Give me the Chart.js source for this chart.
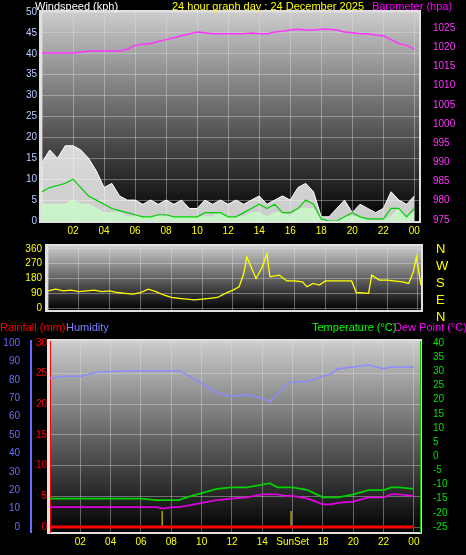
<!DOCTYPE html>
<html><head><meta charset="utf-8">
<script src="https://cdn.jsdelivr.net/npm/chart.js@4.4.0/dist/chart.umd.min.js"></script>
<style>
body{margin:0;background:#000;width:466px;height:555px;overflow:hidden;position:relative;font-family:"Liberation Sans",Arial,sans-serif}
canvas{position:absolute;left:0}
.t{position:absolute;font-size:11px;white-space:nowrap;line-height:12px;z-index:2}
</style></head><body>
<div class="t" style="left:35px;top:0;color:#fff">Windspeed (kph)</div>
<div class="t" style="left:172px;top:0;color:#ff0">24 hour graph day : 24 December 2025</div>
<div class="t" style="left:372px;top:0;color:#f0f">Barometer (hpa)</div>
<div class="t" style="left:436px;top:240px;color:#ff0;font-size:13px;line-height:17px">N<br>W<br>S<br>E<br>N</div>
<div class="t" style="left:0;top:321px;color:#f00">Rainfall (mm)</div>
<div class="t" style="left:66px;top:321px;color:#8080ff">Humidity</div>
<div class="t" style="left:312px;top:321px;color:#0f0">Temperature (°C)</div>
<div class="t" style="left:394px;top:321px;color:#f0f">Dew Point (°C)</div>
<div style="position:absolute;left:0;top:0;width:466px;height:555px">
<canvas id="wind" width="466" height="240" style="top:0"></canvas>
<canvas id="dir" width="466" height="88" style="top:234px"></canvas>
<canvas id="temp" width="466" height="225" style="top:330px"></canvas>
</div>
<script>
const halfHours = [0,0.5,1,1.5,2,2.5,3,3.5,4,4.5,5,5.5,6,6.5,7,7.5,8,8.5,9,9.5,10,10.5,11,11.5,12,12.5,13,13.5,14,14.5,15,15.5,16,16.5,17,17.5,18,18.5,19,19.5,20,20.5,21,21.5,22,22.5,23,23.5,24];
const windGust = [14,17,15,18,18,17,15,12,8,9,6,5,5,4,5,4,5,4,5,3,3,5,4,5,4,5,4,5,6,4,5,6,5,8,9,7,1,1,3,5,2,4,3,2,3,7,5,4,6];
const windLull = [4,4,4,4,5,4,4,3,2,2,2,1,1,1,1,1,1,1,1,1,1,1,1,2,1,1,1,2,2,1,2,2,1,3,3,3,0,0,0,1,1,1,0,0,0,1,3,1,2];
const windAvg = [7,8,8.5,9,10,8,6,5,4,3,2.5,2,1.5,1,1,1.5,1.5,1,1,1,1,2,2,2,1,1,2,3,4,3,4,2,2,3,5,4,0.5,0,0,1,2,1,0.5,0.5,0.5,3,3,1,3];
const baro = [1018.5,1018.5,1018.5,1018.5,1018.5,1018.7,1019,1019,1019,1019,1019,1019.5,1020.5,1020.8,1021,1021.5,1022,1022.5,1023,1023.5,1024,1023.8,1023.5,1023.5,1023.5,1023.5,1023.5,1023.7,1023.5,1023.5,1024,1024.2,1024.5,1024.7,1024.5,1024.5,1024.7,1024.7,1024.5,1024,1023.8,1023.5,1023.5,1023.2,1023,1022,1021,1020.5,1019.5];
const dirHours = [0,0.5,1,1.5,2,2.5,3,3.5,4,4.5,5,5.5,6,6.5,7,7.5,8,8.5,9,9.5,10,10.5,11,11.5,12,12.4,12.7,12.9,13.5,13.9,14.2,14.4,15,15.5,16,16.5,16.8,17.2,17.6,18,19,19.7,20,20.8,21,21.5,22,23,23.4,23.7,23.9,24.2];
const windDir = [105,115,105,110,100,105,110,100,105,95,90,85,95,115,100,80,65,60,55,50,55,60,65,90,110,130,210,310,180,250,330,190,200,165,165,160,130,150,140,165,165,165,95,90,200,170,170,160,150,220,310,140];
const hours = [0,1,2,3,4,5,6,7,7.5,8,8.5,9,10,11,12,13,14,14.5,15,15.5,16,17,18,18.5,19,20,21,22,22.5,23,24];
const humidity = [81,82,82,84,84.5,85,85,85,85,85,85,83,78,73,71,72,70,68,72,77,79,79,82,83,86,87,88,86,87,87,87];
const temperature = [-15,-15,-15,-15,-15,-15,-15,-15.5,-15.5,-15.5,-15.5,-14.5,-13,-11.5,-11,-11,-10,-9.5,-11,-11,-11,-12,-14.5,-14.5,-14.5,-13.5,-12,-12,-11,-11,-11.5];
const dewPoint = [-18,-18,-18,-18,-18,-18,-18,-18,-18.5,-18,-18,-17.5,-16.5,-15.5,-15,-14.5,-13.5,-13.5,-13.5,-14,-14,-15,-17,-17,-16.5,-16,-14.5,-14.5,-13.5,-13.5,-14];
const rainfall = [0,0,0,0,0,0,0,0,0,0,0,0,0,0,0,0,0,0,0,0,0,0,0,0,0,0,0,0,0,0,0];
const sunTimes = [7.4,15.9];
const xTickLabels = {2:'02',4:'04',6:'06',8:'08',10:'10',12:'12',14:'14',16:'16',18:'18',20:'20',22:'22',24:'00'};

const pts = (xs, ys) => xs.map((x, i) => ({x: x, y: ys[i]}));
const font = {family: 'Liberation Sans', size: 10};
const bgPlugin = {
  id: 'bg',
  beforeDraw(c) {
    const a = c.chartArea, g = c.ctx.createLinearGradient(0, a.top, 0, a.bottom);
    g.addColorStop(0, '#cccccc'); g.addColorStop(0.45, '#6e6e6e'); g.addColorStop(1, '#000');
    c.ctx.fillStyle = '#e0e0e0'; c.ctx.fillRect(a.left - 3, a.top - 2, a.width + 5, a.height + 4);
    c.ctx.fillStyle = g; c.ctx.fillRect(a.left, a.top, a.width, a.height);
  }
};
Chart.register(bgPlugin);
const fit = (w) => function (s) { s.width = w; };
const fitH = (h) => function (s) { s.height = h; };
const grid = {color: 'rgba(225,225,225,0.4)', tickLength: 0};
function xAxis(show, h, max, cb) {
  return {type: 'linear', min: 0, max: max, afterFit: fitH(h),
    grid: grid, border: {display: false},
    ticks: {display: show, stepSize: 2, autoSkip: false, includeBounds: false, color: '#ff0', font: font, padding: 4, maxRotation: 0,
      callback: cb || (v => xTickLabels[v] || '')}};
}
function yTicks(step, color, pad) {
  return {stepSize: step, autoSkip: false, includeBounds: false, color: color, font: font, padding: pad, callback: v => String(v)};
}
Chart.defaults.animation = false;
Chart.defaults.devicePixelRatio = 1;
Chart.defaults.responsive = false;
Chart.defaults.plugins.legend.display = false;
Chart.defaults.plugins.tooltip.enabled = false;
Chart.defaults.elements.point.radius = 0;

new Chart(document.getElementById('wind'), {
  type: 'line',
  data: {datasets: [
    {data: pts(halfHours, baro), yAxisID: 'yb', borderColor: '#ff33ff', borderWidth: 1.5},
    {data: pts(halfHours, windAvg), borderColor: '#00d000', borderWidth: 1.2},
    {data: pts(halfHours, windLull), borderColor: 'rgba(200,255,200,0.9)', backgroundColor: 'rgba(200,255,200,0.75)', fill: 'origin', borderWidth: 1},
    {data: pts(halfHours, windGust), borderColor: '#ffffff', backgroundColor: 'rgba(255,255,255,0.8)', fill: 'origin', borderWidth: 1}
  ]},
  options: {layout: {padding: {top: 12}}, scales: {
    x: xAxis(true, 19, 24.3),
    y: {position: 'left', min: 0, max: 50, afterFit: fit(42), grid: grid, border: {display: false},
      ticks: yTicks(5, '#b8ccff', 5)},
    yb: {position: 'right', min: 974.7, max: 1029.2, afterFit: fit(47), grid: {display: false}, border: {display: false},
      ticks: yTicks(5, '#ff33ff', 6)}
  }}
});

new Chart(document.getElementById('dir'), {
  type: 'line',
  data: {datasets: [{data: pts(dirHours, windDir), borderColor: '#ffff00', borderWidth: 1.3}]},
  options: {layout: {padding: {top: 10, bottom: 10}}, scales: {
    x: xAxis(false, 0, 24.2),
    y: {min: -11, max: 377, afterFit: fit(48), grid: grid, border: {display: false},
      ticks: yTicks(90, '#ff0', 6)},
    yr: {position: 'right', afterFit: fit(45), grid: {display: false}, border: {display: false}, ticks: {display: false}}
  }}
});

const sunSets = sunTimes.map(t => ({data: [{x: t, y: 0}, {x: t, y: 2.6}], yAxisID: 'yr', borderColor: '#b8a000', borderWidth: 1.5}));
new Chart(document.getElementById('temp'), {
  type: 'line',
  data: {datasets: [
    {data: pts(hours, humidity), yAxisID: 'yh', borderColor: '#8c8cff', borderWidth: 1.5},
    {data: pts(hours, temperature), yAxisID: 'yt', borderColor: '#00d000', borderWidth: 1.8},
    {data: pts(hours, dewPoint), yAxisID: 'yt', borderColor: '#e000e0', borderWidth: 1.8},
    {data: pts(hours, rainfall), yAxisID: 'yr', borderColor: '#ff0000', borderWidth: 3}
  ].concat(sunSets)},
  options: {layout: {padding: {top: 10}}, scales: {
    x: xAxis(true, 23, 24.4, v => v === 16 ? 'SunSet' : (xTickLabels[v] || '')),
    yr: {position: 'left', min: -0.81, max: 30.32, afterFit: fit(19), grid: grid,
      border: {display: true, color: '#ff0000', width: 1},
      ticks: yTicks(5, '#ff0000', 3)},
    yh: {position: 'left', min: -2.7, max: 101.1, afterFit: fit(31), grid: {display: false},
      border: {display: true, color: '#6a6aff', width: 2},
      ticks: yTicks(10, '#6a6aff', 3)},
    yt: {position: 'right', min: -26.76, max: 40.7, afterFit: fit(46), grid: {display: false},
      border: {display: true, color: '#00c000', width: 1},
      ticks: yTicks(5, '#00e000', 5)}
  }}
});
</script>
</body></html>
